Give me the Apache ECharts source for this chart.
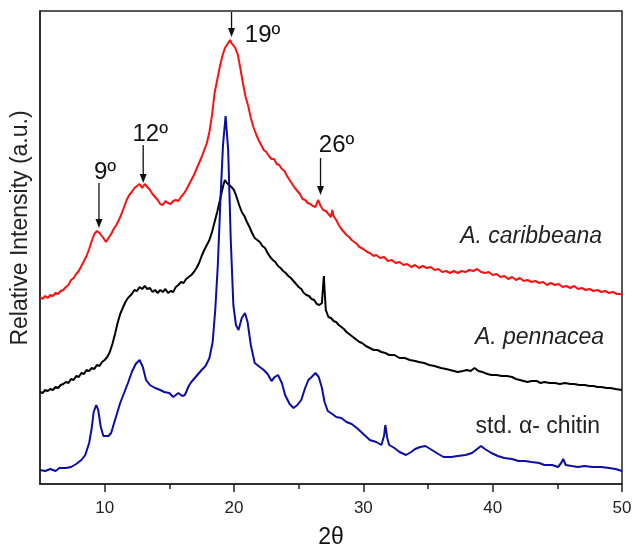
<!DOCTYPE html>
<html><head><meta charset="utf-8">
<script src="https://cdn.jsdelivr.net/npm/echarts@6/dist/echarts.min.js"></script>
<style>html,body{margin:0;padding:0;background:#fff}#c{width:633px;height:549px}</style>
</head><body><div id="c"></div>
<script>
// 2θ (degrees) and relative intensity (arbitrary units)
const caribbeana = [
[5.0,187],[5.2,185],[5.4,188],[5.6,186],[5.8,189],[6.0,188],[6.2,191],[6.4,190],[6.6,193],[6.8,194],[7.0,197],[7.2,199],[7.4,204],[7.6,206],[7.8,210],[8.0,213],[8.2,218],[8.4,223],[8.6,228],[8.8,235],[9.0,243],[9.2,250],[9.4,253],[9.5,254],[9.6,251],[9.7,253],[9.9,246],[10.1,242],[10.3,246],[10.5,250],[10.7,255],[10.9,259],[11.1,264],[11.3,270],[11.5,277],[11.7,284],[11.9,289],[12.1,292],[12.3,296],[12.5,298],[12.7,300],[12.9,296],[13.1,300],[13.3,297],[13.5,294],[13.7,290],[13.9,287],[14.1,284],[14.3,280],[14.5,279],[14.7,283],[14.9,281],[15.1,280],[15.3,283],[15.5,284],[15.7,283],[15.9,287],[16.1,290],[16.3,294],[16.5,299],[16.7,304],[16.9,309],[17.1,315],[17.3,321],[17.5,327],[17.7,334],[17.9,341],[18.1,352],[18.3,369],[18.5,391],[18.7,404],[18.9,417],[19.1,428],[19.3,436],[19.5,440],[19.6,442],[19.7,444],[19.8,441],[19.9,443],[20.1,436],[20.3,429],[20.5,415],[20.7,400],[20.9,387],[21.1,378],[21.3,366],[21.5,357],[21.7,350],[21.9,344],[22.1,339],[22.3,334],[22.5,332],[22.7,328],[22.9,325],[23.1,325],[23.3,320],[23.5,319],[23.7,315],[23.9,313],[24.1,308],[24.3,304],[24.5,300],[24.7,296],[24.9,293],[25.1,290],[25.3,285],[25.5,284],[25.7,281],[25.9,280],[26.1,278],[26.3,277],[26.5,284],[26.7,278],[26.9,274],[27.1,273],[27.3,270],[27.5,267],[27.6,274],[27.7,268],[27.9,264],[28.1,259],[28.3,255],[28.5,252],[28.7,249],[28.9,247],[29.1,244],[29.3,242],[29.5,240],[29.7,237],[30.0,235],[30.3,232],[30.5,231],[30.8,228],[31.0,229],[31.3,226],[31.6,227],[31.9,223],[32.2,224],[32.5,221],[32.8,222],[33.1,219],[33.4,220],[33.7,217],[34.0,219],[34.3,216],[34.6,218],[34.9,216],[35.2,217],[35.5,214],[35.8,215],[36.1,212],[36.4,213],[36.7,211],[37.0,213],[37.3,211],[37.6,213],[37.9,212],[38.2,214],[38.5,213],[38.8,215],[39.1,212],[39.4,211],[39.7,212],[40.0,209],[40.3,210],[40.6,207],[40.9,208],[41.2,205],[41.5,207],[41.8,204],[42.1,206],[42.4,203],[42.7,204],[43.0,202],[43.3,203],[43.6,201],[43.9,202],[44.2,199],[44.5,201],[44.8,199],[45.1,200],[45.4,197],[45.7,198],[46.0,196],[46.3,198],[46.6,195],[46.9,196],[47.2,194],[47.5,195],[47.8,193],[48.1,194],[48.4,192],[48.7,193],[49.0,191],[49.3,192],[49.6,190],[50.0,190]
];
const pennacea = [
[5.0,92],[5.2,91],[5.4,94],[5.6,93],[5.8,95],[6.0,94],[6.2,97],[6.4,96],[6.6,99],[6.8,100],[7.0,102],[7.2,101],[7.4,105],[7.6,104],[7.8,108],[8.0,107],[8.2,111],[8.4,110],[8.6,114],[8.8,113],[9.0,116],[9.2,115],[9.4,119],[9.6,118],[9.8,122],[10.0,124],[10.2,127],[10.4,132],[10.6,140],[10.8,150],[11.0,161],[11.2,170],[11.4,176],[11.6,182],[11.8,186],[12.1,190],[12.3,194],[12.5,193],[12.7,197],[12.9,195],[13.1,198],[13.3,195],[13.5,196],[13.7,192],[13.9,194],[14.1,191],[14.3,194],[14.5,192],[14.7,195],[14.9,191],[15.1,193],[15.3,192],[15.5,197],[15.7,199],[15.9,202],[16.1,201],[16.3,205],[16.5,207],[16.7,209],[16.9,212],[17.1,216],[17.3,221],[17.5,228],[17.7,234],[17.9,239],[18.1,244],[18.3,252],[18.5,262],[18.7,272],[18.9,283],[19.05,292],[19.2,300],[19.3,304],[19.45,301],[19.6,302],[19.8,297],[20.0,294],[20.2,287],[20.4,279],[20.6,272],[20.8,268],[21.0,262],[21.2,257],[21.4,251],[21.6,246],[21.8,244],[22.0,242],[22.2,238],[22.4,236],[22.6,231],[22.8,227],[23.0,224],[23.2,222],[23.4,218],[23.6,216],[23.8,213],[24.0,211],[24.2,208],[24.4,206],[24.6,203],[24.8,200],[25.0,197],[25.2,195],[25.4,191],[25.6,189],[25.8,188],[26.0,185],[26.2,184],[26.4,180],[26.6,179],[26.8,181],[26.9,200],[26.95,208],[27.0,195],[27.1,174],[27.3,167],[27.5,166],[27.7,163],[27.9,162],[28.1,159],[28.3,157],[28.5,155],[28.7,152],[28.9,150],[29.1,148],[29.3,146],[29.5,144],[29.7,142],[29.9,141],[30.2,138],[30.5,136],[30.8,134],[31.1,134],[31.4,132],[31.7,131],[32.0,129],[32.4,129],[32.8,126],[33.2,126],[33.6,124],[34.0,123],[34.3,122],[34.7,121],[35.1,119],[35.5,118],[36.0,116],[36.4,115],[36.7,114],[37.0,113],[37.3,112],[37.7,113],[38.0,114],[38.3,113],[38.6,116],[38.9,113],[39.2,112],[39.6,110],[39.9,109],[40.3,109],[40.7,108],[41.1,108],[41.5,107],[41.8,105],[42.1,104],[42.4,103],[42.7,102],[43.0,103],[43.4,103],[43.7,101],[44.0,102],[44.4,101],[44.8,101],[45.2,100],[45.6,101],[46.0,100],[46.3,100],[46.7,99],[47.1,99],[47.5,98],[47.8,98],[48.1,97],[48.4,97],[48.8,96],[49.1,96],[49.5,95],[50.0,94]
];
const chitin = [
[5.0,14],[5.4,13],[5.8,15],[6.2,13],[6.5,16],[7.0,16],[7.4,17],[7.8,20],[8.2,24],[8.5,29],[8.8,41],[9.0,56],[9.15,72],[9.35,79],[9.5,74],[9.7,57],[9.9,48],[10.05,46],[10.3,48],[10.5,51],[10.8,64],[11.2,81],[11.5,91],[11.8,101],[12.1,112],[12.4,120],[12.7,124],[12.95,117],[13.2,104],[13.5,99],[13.9,96],[14.3,94],[14.6,92],[15.0,91],[15.3,87],[15.7,91],[16.0,88],[16.2,89],[16.5,98],[16.7,102],[17.1,108],[17.5,114],[17.8,118],[18.1,126],[18.35,142],[18.55,174],[18.75,219],[18.95,284],[19.15,339],[19.35,368],[19.55,334],[19.75,244],[19.95,179],[20.15,159],[20.35,154],[20.6,166],[20.85,171],[21.05,162],[21.3,139],[21.6,121],[22.0,117],[22.3,114],[22.6,110],[22.9,103],[23.15,107],[23.4,109],[23.7,101],[23.95,89],[24.3,80],[24.6,76],[24.9,79],[25.2,84],[25.5,96],[25.75,104],[26.0,107],[26.3,111],[26.55,107],[26.8,96],[27.0,82],[27.25,73],[27.6,70],[27.9,67],[28.3,66],[28.7,62],[29.1,60],[29.5,56],[30.0,50],[30.5,44],[31.0,42],[31.4,39],[31.6,48],[31.7,59],[31.85,46],[32.0,39],[32.4,36],[32.8,32],[33.3,29],[33.7,32],[34.0,35],[34.4,37],[34.8,38],[35.3,34],[35.8,30],[36.2,27],[36.8,27],[37.3,28],[37.9,29],[38.4,31],[38.8,35],[39.1,38],[39.4,35],[39.9,31],[40.4,28],[40.9,26],[41.5,25],[42.0,23],[42.5,23],[43.0,22],[43.6,21],[44.0,19],[44.6,19],[45.05,17],[45.3,21],[45.45,25],[45.65,19],[46.1,18],[46.6,17],[47.1,18],[47.7,17],[48.4,17],[49.0,16],[49.5,15],[50.0,13]
];
const seriesNames = ['A. caribbeana', 'A. pennacea', 'std. α- chitin'];
const majorTicks = [10, 20, 30, 40, 50];
const minorTicks = [15, 25, 35, 45];
// peak annotations: label, 2θ, arrow tip and tail intensity
const peakLabels = ['9º', '12º', '19º', '26º'];
const peakTheta = [9.56, 12.98, 19.81, 26.69];
const peakTip = [256, 301, 447, 289];
const peakTail = [301, 339, 472, 326];

const FONT = '"Liberation Sans", Arial, Helvetica, sans-serif';
const chart = echarts.init(document.getElementById('c'), null, {renderer: 'canvas'});
const lineSeries = (name, data, color) => ({
  name, type: 'line', data, showSymbol: false, symbol: 'none', smooth: false,
  lineStyle: {color, width: 2}, itemStyle: {color}, animation: false, z: 3
});
chart.setOption({
  animation: false,
  backgroundColor: '#fff',
  grid: {left: 40, right: 11, top: 11, bottom: 65, containLabel: false, outerBoundsMode: 'none',
    show: true, borderColor: '#222', borderWidth: 1.5, backgroundColor: 'transparent'},
  xAxis: [{
    type: 'value', min: 5, max: 50, interval: 5,
    name: '2θ', nameLocation: 'middle', nameGap: 42,
    nameTextStyle: {fontFamily: FONT, fontSize: 23, color: '#111'},
    axisLine: {show: true, onZero: false, lineStyle: {color: '#222', width: 1.5}},
    axisTick: {show: true, inside: false, length: 8, customValues: majorTicks, lineStyle: {color: '#222', width: 1.5}},
    axisLabel: {show: true, customValues: majorTicks, margin: 16, fontFamily: FONT, fontSize: 17, color: '#222'},
    splitLine: {show: false}
  }, {
    type: 'value', min: 5, max: 50, interval: 5, position: 'bottom',
    axisLine: {show: false},
    axisTick: {show: true, inside: false, length: 5, customValues: minorTicks, lineStyle: {color: '#222', width: 1.5}},
    axisLabel: {show: false}, splitLine: {show: false}
  }],
  yAxis: {
    type: 'value', min: 0, max: 473,
    axisLine: {show: true, lineStyle: {color: '#222', width: 1.5}},
    axisTick: {show: false}, axisLabel: {show: false}, splitLine: {show: false}
  },
  series: [
    lineSeries(seriesNames[0], caribbeana, '#ff1010'),
    lineSeries(seriesNames[1], pennacea, '#000000'),
    lineSeries(seriesNames[2], chitin, '#0c0ca6')
  ]
});

function buildGraphics() {
  const g = [];
  // y axis title
  g.push({type: 'text', x: 21, y: 228, rotation: Math.PI / 2,
    style: {text: 'Relative Intensity (a.u.)', font: '23px ' + FONT, fill: '#222', align: 'center', verticalAlign: 'middle'}});
  // series labels, placed at the right end near each curve
  const lblRight = chart.convertToPixel({xAxisIndex: 0}, 49);
  const labelY = [237, 338, 427];
  const labelStyle = ['italic ', 'italic ', ''];
  const labelDx = [-8, -6, -10];
  seriesNames.forEach((n, i) => {
    g.push({type: 'text', x: lblRight + labelDx[i] + 1, y: labelY[i],
      style: {text: n, font: labelStyle[i] + '23px ' + FONT, fill: '#222', align: 'right', verticalAlign: 'middle'}});
  });
  // peak arrows
  const textOff = [[6, -11], [7, -11], [31, 10], [16, -13]];
  peakLabels.forEach((t, i) => {
    const px = chart.convertToPixel({xAxisIndex: 0}, peakTheta[i]);
    const tipY = chart.convertToPixel({yAxisIndex: 0}, peakTip[i]);
    const tailY = chart.convertToPixel({yAxisIndex: 0}, peakTail[i]);
    g.push({type: 'line', shape: {x1: px, y1: tailY, x2: px, y2: tipY - 7}, style: {stroke: '#111', lineWidth: 1.3}});
    g.push({type: 'polygon', shape: {points: [[px - 3.5, tipY - 9], [px + 3.5, tipY - 9], [px, tipY]]}, style: {fill: '#111'}});
    const ty = i === 2 ? tipY - 2 : tailY + textOff[i][1];
    g.push({type: 'text', x: px + textOff[i][0], y: ty,
      style: {text: t, font: '24px ' + FONT, fill: '#111', align: 'center', verticalAlign: 'middle'}});
  });
  return g;
}
chart.setOption({graphic: buildGraphics()});
</script></body></html>
